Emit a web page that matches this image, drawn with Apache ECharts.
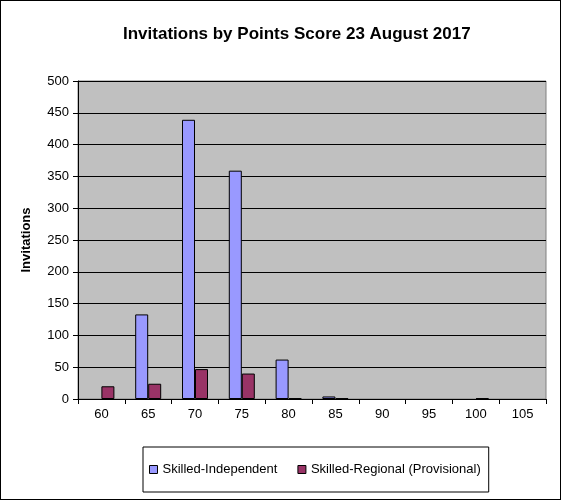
<!DOCTYPE html>
<html>
<head>
<meta charset="utf-8">
<script src="https://cdn.jsdelivr.net/npm/echarts@6/dist/echarts.min.js"></script>
<style>
  html, body { margin: 0; padding: 0; background: #fff; }
  #chart { width: 561px; height: 500px; box-sizing: border-box; border: 1px solid #000; }
</style>
</head>
<body>
<div id="chart"></div>
<script>
// points score categories
const points = ['60', '65', '70', '75', '80', '85', '90', '95', '100', '105']
const skilledIndependent = [0, 133, 439, 359, 62, 4, 0, 0, 0, 0]
const skilledRegional = [20, 24, 47, 40, 1, 1, 0, 0, 1, 0]

// zero bars are not drawn in the original
const hideZero = arr => arr.map(v => (v === 0 ? '-' : v))

const chart = echarts.init(document.getElementById('chart'))
const font = 'Liberation Sans, Arial, sans-serif'

chart.setOption({
  animation: false,
  title: {
    text: 'Invitations by Points Score 23 August 2017',
    left: 117,
    top: 20,
    textStyle: { fontFamily: font, fontSize: 17, fontWeight: 'bold', color: '#000' },
  },
  grid: {
    left: 77,
    right: 14,
    top: 80,
    bottom: 100,
    show: true,
    backgroundColor: '#c0c0c0',
    borderColor: '#808080',
    borderWidth: 1,
  },
  legend: {
    top: 446,
    left: 142,
    padding: [16, 8, 16, 6],
    borderColor: '#000',
    borderWidth: 1,
    itemWidth: 8,
    itemHeight: 8,
    itemGap: 20,
    icon: 'rect',
    itemStyle: { borderColor: '#000', borderWidth: 1 },
    textStyle: { fontFamily: font, fontSize: 13, color: '#000' },
    data: ['Skilled-Independent', 'Skilled-Regional (Provisional)'],
  },
  xAxis: {
    type: 'category',
    data: points,
    axisLine: { lineStyle: { color: '#000', width: 1 } },
    axisTick: { show: true, alignWithLabel: false, length: 5, lineStyle: { color: '#000' } },
    axisLabel: { fontFamily: font, fontSize: 13, color: '#000', margin: 9 },
  },
  yAxis: {
    type: 'value',
    min: 0,
    max: 500,
    interval: 50,
    name: 'Invitations',
    nameLocation: 'middle',
    nameGap: 45,
    nameTextStyle: { fontFamily: font, fontSize: 13, fontWeight: 'bold', color: '#000' },
    axisLine: { show: true, lineStyle: { color: '#000', width: 1 } },
    axisTick: { show: true, length: 5, lineStyle: { color: '#000' } },
    axisLabel: { fontFamily: font, fontSize: 13, color: '#000', margin: 9 },
    splitLine: { show: true, lineStyle: { color: '#000', width: 1 } },
  },
  series: [
    {
      name: 'Skilled-Independent',
      type: 'bar',
      data: hideZero(skilledIndependent),
      barWidth: 13,
      barGap: '0%',
      itemStyle: { color: '#9999ff', borderColor: '#000', borderWidth: 1 },
    },
    {
      name: 'Skilled-Regional (Provisional)',
      type: 'bar',
      data: hideZero(skilledRegional),
      barWidth: 13,
      barGap: '0%',
      itemStyle: { color: '#993366', borderColor: '#000', borderWidth: 1 },
    },
  ],
})
</script>
</body>
</html>
